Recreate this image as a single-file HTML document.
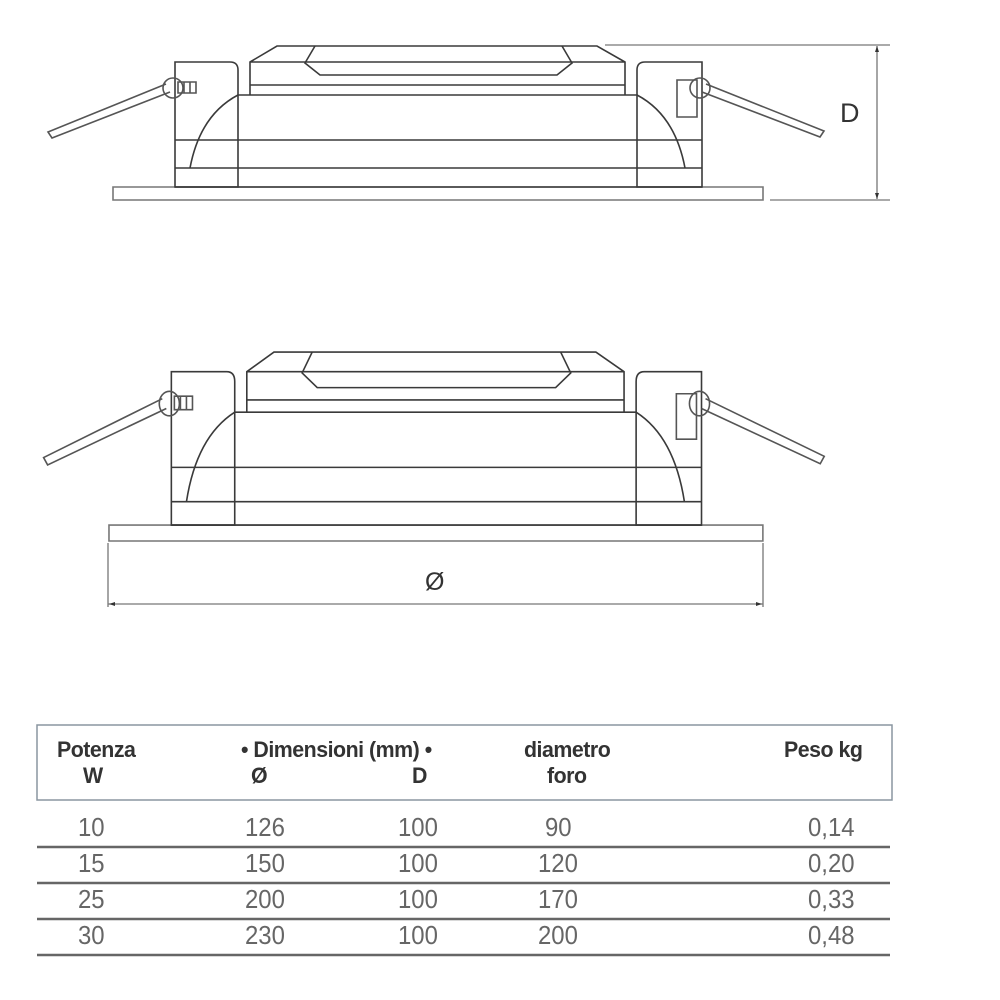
<!DOCTYPE html>
<html><head><style>
html,body{margin:0;padding:0;background:#fff;width:1000px;height:1000px;overflow:hidden}
svg{position:absolute;left:0;top:0}
.t{position:absolute;font-family:"Liberation Sans",sans-serif;color:#333;white-space:nowrap}
.h{font-weight:bold;font-size:22px;color:#333;transform:scaleX(0.97);transform-origin:0 0;letter-spacing:-0.5px}
.n{font-size:26px;color:#666;transform:scaleX(0.92);transform-origin:0 0}
</style></head><body>
<svg width="1000" height="1000" viewBox="0 0 1000 1000">
<defs>
<g id="lamp" fill="none" stroke="#3a3a3a" stroke-width="1.6">
  <rect x="113" y="187" width="650" height="13" stroke="#777" vector-effect="non-scaling-stroke"/>
  <path d="M175,187 V62 H230 Q238,62 238,70 V187 Z" vector-effect="non-scaling-stroke"/>
  <path d="M702,187 V62 H645 Q637,62 637,70 V187 Z" vector-effect="non-scaling-stroke"/>
  <rect x="677" y="80" width="20" height="37" stroke="#555" vector-effect="non-scaling-stroke"/>
  <path d="M238,95 H637 M175,140 H702 M175,168 H702 M175,187 H702" vector-effect="non-scaling-stroke"/>
  <path d="M238,95 Q200,115 190,168" vector-effect="non-scaling-stroke"/>
  <path d="M637,95 Q675,115 685,168" vector-effect="non-scaling-stroke"/>
  <path d="M250,95 V62 L277,46 H597 L625,62 V95 M250,62 H625 M250,85 H625" vector-effect="non-scaling-stroke"/>
  <path d="M315,46 L305,63 L320,75 H557 L572,63 L562,46" vector-effect="non-scaling-stroke"/>
  <path d="M166,84 L48,132 L52,138 L170,92" stroke="#555" vector-effect="non-scaling-stroke"/>
  <path d="M706,84 L824,131 L820,137 L702,92" stroke="#555" vector-effect="non-scaling-stroke"/>
  <circle cx="173" cy="88" r="10" stroke="#555" vector-effect="non-scaling-stroke"/>
  <circle cx="700" cy="88" r="10" stroke="#555" vector-effect="non-scaling-stroke"/>
  <rect x="178" y="82" width="18" height="11" stroke="#555" vector-effect="non-scaling-stroke"/>
  <path d="M184,82 V93 M190,82 V93" stroke="#555" vector-effect="non-scaling-stroke"/>
</g>
</defs>
<use href="#lamp"/>
<use href="#lamp" transform="matrix(1.006,0,0,1.227,-4.7,295.6)"/>
<g stroke="#777" stroke-width="1.3" fill="none">
  <path d="M605,45 H890 M770,200 H890 M877,46 V199"/>
  <path d="M108,543 V607 M763,543 V607 M108,604 H763"/>
</g>
<g fill="#333">
  <path d="M877,46 l-2,6 h4 z M877,199 l-2,-6 h4 z M109,604 l6,-2 v4 z M762,604 l-6,-2 v4 z"/>
</g>
<rect x="37" y="725" width="855" height="75" fill="none" stroke="#8a96a0" stroke-width="1.5"/>
<g stroke="#666" stroke-width="2.5">
  <path d="M37,847 H890 M37,883 H890 M37,919 H890 M37,955 H890"/>
</g>
</svg>
<div class="t" style="left:840px;top:98px;font-size:27px">D</div>
<div class="t" style="left:425px;top:568px;font-size:25px">Ø</div>
<div class="t h" style="left:57px;top:737px">Potenza</div>
<div class="t h" style="left:83px;top:763px">W</div>
<div class="t h" style="left:241px;top:737px">• Dimensioni (mm) •</div>
<div class="t h" style="left:251px;top:763px">Ø</div>
<div class="t h" style="left:412px;top:763px">D</div>
<div class="t h" style="left:524px;top:737px">diametro</div>
<div class="t h" style="left:547px;top:763px">foro</div>
<div class="t h" style="left:784px;top:737px">Peso kg</div>
<div class="t n" style="top:812px;left:78px">10</div>
<div class="t n" style="top:812px;left:245px">126</div>
<div class="t n" style="top:812px;left:398px">100</div>
<div class="t n" style="top:812px;left:545px">90</div>
<div class="t n" style="top:812px;left:808px">0,14</div>
<div class="t n" style="top:848px;left:78px">15</div>
<div class="t n" style="top:848px;left:245px">150</div>
<div class="t n" style="top:848px;left:398px">100</div>
<div class="t n" style="top:848px;left:538px">120</div>
<div class="t n" style="top:848px;left:808px">0,20</div>
<div class="t n" style="top:884px;left:78px">25</div>
<div class="t n" style="top:884px;left:245px">200</div>
<div class="t n" style="top:884px;left:398px">100</div>
<div class="t n" style="top:884px;left:538px">170</div>
<div class="t n" style="top:884px;left:808px">0,33</div>
<div class="t n" style="top:920px;left:78px">30</div>
<div class="t n" style="top:920px;left:245px">230</div>
<div class="t n" style="top:920px;left:398px">100</div>
<div class="t n" style="top:920px;left:538px">200</div>
<div class="t n" style="top:920px;left:808px">0,48</div>
</body></html>
